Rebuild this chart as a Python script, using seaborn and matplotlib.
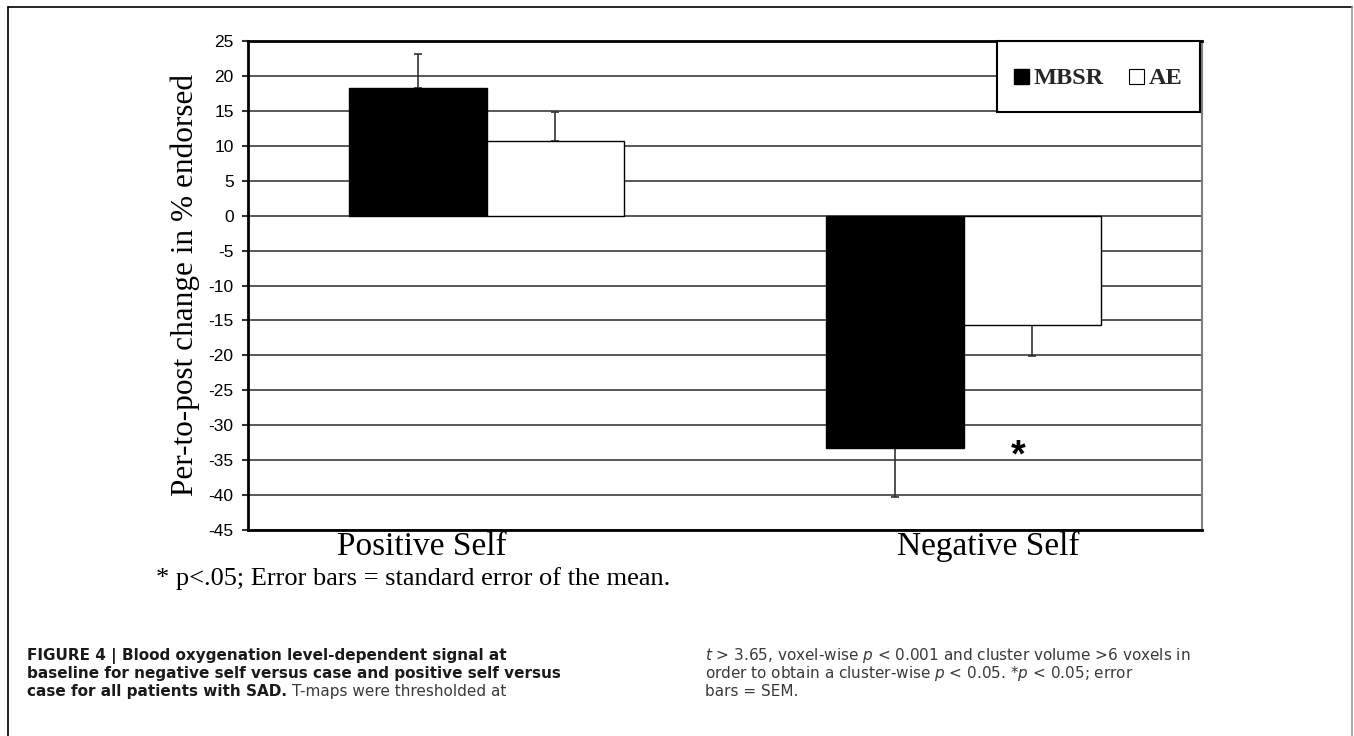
import numpy as np
import pandas as pd
import matplotlib
matplotlib.use("Agg")
import matplotlib.pyplot as plt
import seaborn as sns
from matplotlib.patches import Patch, Rectangle
from matplotlib.legend_handler import HandlerPatch
from matplotlib.transforms import ScaledTranslation
from matplotlib.lines import Line2D

# ---------------- data ----------------
categories = ["Positive Self", "Negative Self"]
groups = ["MBSR", "AE"]
mbsr_means = [18.3, -33.3]
ae_means = [10.7, -15.6]
mbsr_sem = [4.8, 7.0]
ae_sem = [4.1, 4.5]
y_ticks = [-45, -40, -35, -30, -25, -20, -15, -10, -5, 0, 5, 10, 15, 20, 25]
footnote = "* p<.05; Error bars = standard error of the mean."
caption_left = ["FIGURE 4 | Blood oxygenation level-dependent signal at",
                "baseline for negative self versus case and positive self versus",
                "case for all patients with SAD."]
caption_left_tail = "T-maps were thresholded at"
caption_right = ["$t$ > 3.65, voxel-wise $p$ < 0.001 and cluster volume >6 voxels in",
                 "order to obtain a cluster-wise $p$ < 0.05. *$p$ < 0.05; error",
                 "bars = SEM."]

df = pd.DataFrame({
    "Condition": categories * 2,
    "Group": [groups[0]] * 2 + [groups[1]] * 2,
    "Change": mbsr_means + ae_means,
    "SEM": mbsr_sem + ae_sem,
})

# ---------------- style ----------------
sns.set_theme(style="white")
plt.rcParams["font.family"] = ["Liberation Sans", "DejaVu Sans"]
plt.rcParams["axes.unicode_minus"] = False
plt.rcParams["mathtext.fontset"] = "dejavusans"

W, H = 1354, 736
fig = plt.figure(figsize=(W / 100, H / 100), dpi=100)
ax = fig.add_axes([248 / W, 1 - 530 / H, 954 / W, 489 / H])

sns.barplot(data=df, x="Condition", y="Change", hue="Group",
            order=categories, hue_order=groups,
            palette={"MBSR": "black", "AE": "white"},
            edgecolor="black", linewidth=1.0, width=0.575,
            errorbar=None, legend=False, ax=ax, zorder=3)

# one-sided error bars (SEM)
sem_lookup = dict(zip(df["Change"], df["SEM"]))
for bar in ax.patches:
    h = bar.get_height()
    xc = bar.get_x() + bar.get_width() / 2
    e = sem_lookup[h]
    lower, upper = (0, e) if h >= 0 else (e, 0)
    ax.errorbar(xc, h, yerr=[[lower], [upper]], fmt="none", ecolor="#333333",
                elinewidth=1.2, capsize=3, capthick=1.2, zorder=2)

ax.set_xlim(-0.5, 1.5)
ax.set_ylim(min(y_ticks), max(y_ticks))
ax.set_yticks(y_ticks)
ax.set_axisbelow(True)
ax.yaxis.grid(True, color="#2b2b2b", linewidth=1.1)
ax.xaxis.grid(False)

for s in ["left", "top", "bottom"]:
    ax.spines[s].set_color("black")
    ax.spines[s].set_linewidth(2)
ax.spines["right"].set_color("#7f7f7f")
ax.spines["right"].set_linewidth(1.5)

ax.tick_params(axis="y", direction="out", length=4.3, width=1.5, color="#333333",
               pad=6, labelsize=12.5, labelcolor="black", left=True)
ax.tick_params(axis="x", length=0, pad=1, labelsize=24, labelcolor="black")
for lab in ax.get_yticklabels():
    lab.set_fontfamily("Liberation Sans")
for lab in ax.get_xticklabels():
    lab.set_fontfamily("Liberation Serif")
ax.set_xlabel("")
ax.set_ylabel("Per-to-post change in % endorsed", fontfamily="Liberation Serif",
              fontsize=22.5, color="black")
ax.yaxis.set_label_coords((200 - 248) / 954, 0.5)

# category labels are shifted like in the original figure
shifts_px = [-65, 25]
for lab, dx in zip(ax.get_xticklabels(), shifts_px):
    lab.set_transform(lab.get_transform() + ScaledTranslation(dx / 100, 0, fig.dpi_scale_trans))

# significance asterisk
ax.text(1 + 0.115, mbsr_means[1] - 2.6, "*", fontsize=27, fontweight="bold",
        fontfamily="Liberation Sans", ha="center", va="baseline", color="black", zorder=5)

# legend
def square_patch(legend, orig_handle, xdescent, ydescent, width, height, fontsize):
    side = width
    return Rectangle((-xdescent, -ydescent + (height - side) / 2), side, side)

handles = [Patch(facecolor="black", edgecolor="black", label=groups[0]),
           Patch(facecolor="white", edgecolor="black", linewidth=0.8, label=groups[1])]
leg = ax.legend(handles=handles, loc="upper right",
                bbox_to_anchor=((1200 - 248) / 954, 1.0), ncol=2, frameon=True,
                fancybox=False, edgecolor="black", framealpha=1,
                prop={"family": "Liberation Serif", "weight": "bold", "size": 17.5},
                handlelength=0.62, handleheight=1.95, handletextpad=0.2,
                columnspacing=1.05, borderpad=0.7, borderaxespad=0,
                handler_map={Patch: HandlerPatch(patch_func=square_patch)})
leg.get_frame().set_linewidth(1.5)
leg.set_zorder(6)

# footnote
fig.text(156 / W, 1 - 585 / H, footnote, fontfamily="Liberation Serif", fontsize=19,
         va="baseline", ha="left", color="black")

# caption
base_y = [660, 678, 696]
cap_size = 11
left_texts = []
for txt, by in zip(caption_left, base_y):
    t = fig.text(27 / W, 1 - by / H, txt, fontfamily="DejaVu Sans", fontweight="bold",
                 fontsize=cap_size, va="baseline", ha="left", color="#1a1a1a")
    left_texts.append(t)
for txt, by in zip(caption_right, base_y):
    fig.text(705 / W, 1 - by / H, txt, fontfamily="DejaVu Sans", fontsize=cap_size,
             va="baseline", ha="left", color="#3a3a3a")

fig.canvas.draw()
bb = left_texts[-1].get_window_extent()
fig.text(bb.x1 / W + 5 / W, 1 - base_y[-1] / H, caption_left_tail, fontfamily="DejaVu Sans",
         fontsize=cap_size, va="baseline", ha="left", color="#3a3a3a")

# outer frame
fig.add_artist(Line2D([8 / W, 8 / W], [0, 1 - 7 / H], transform=fig.transFigure,
                      color="black", lw=1.2))
fig.add_artist(Line2D([8 / W, 1352 / W], [1 - 7 / H, 1 - 7 / H], transform=fig.transFigure,
                      color="black", lw=1.2))
fig.add_artist(Line2D([1352 / W, 1352 / W], [0, 1 - 7 / H], transform=fig.transFigure,
                      color="#9a9a9a", lw=1.2))

fig.savefig("out.png", dpi=100, facecolor="white")
